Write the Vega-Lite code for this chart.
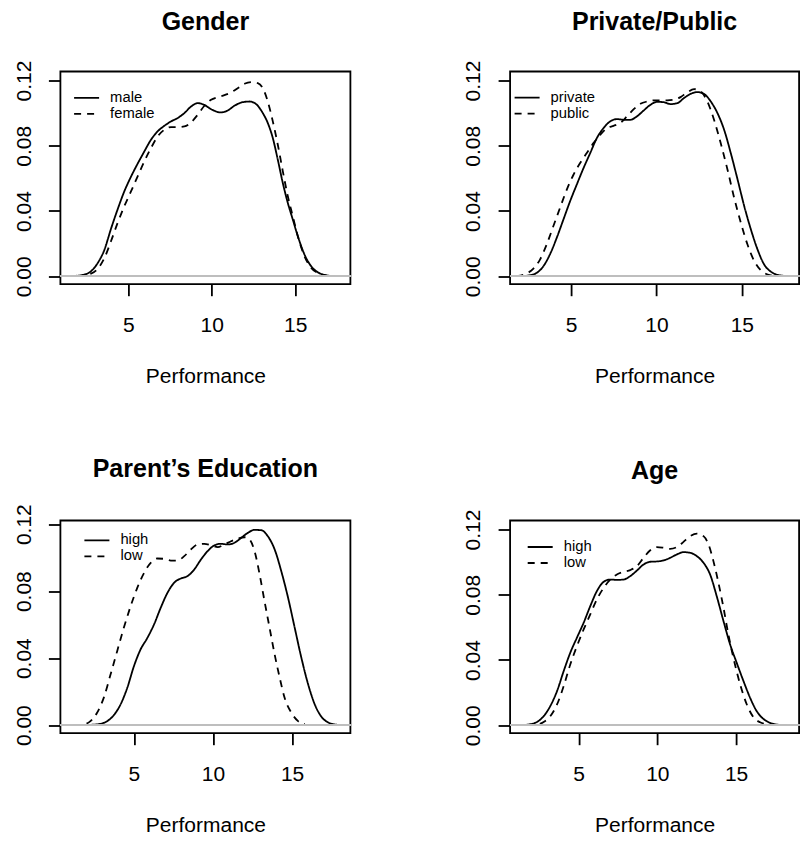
{
  "$schema": "https://vega.github.io/schema/vega-lite/v6.json",
  "background": "white",
  "padding": {"left": 11.4, "top": 8.5, "right": 2, "bottom": 2},
  "datasets": {
    "gender": [
      {"group":"male","x":1.56,"y":0},{"group":"male","x":2.36,"y":0.001},{"group":"male","x":2.76,"y":0.003},{"group":"male","x":3.16,"y":0.008},{"group":"male","x":3.56,"y":0.016},{"group":"male","x":3.96,"y":0.029},{"group":"male","x":4.36,"y":0.041},{"group":"male","x":4.76,"y":0.052},{"group":"male","x":5.16,"y":0.061},{"group":"male","x":5.56,"y":0.069},{"group":"male","x":5.96,"y":0.0765},{"group":"male","x":6.36,"y":0.0837},{"group":"male","x":6.76,"y":0.0888},{"group":"male","x":7.16,"y":0.0922},{"group":"male","x":7.56,"y":0.0949},{"group":"male","x":7.96,"y":0.097},{"group":"male","x":8.36,"y":0.1},{"group":"male","x":8.76,"y":0.104},{"group":"male","x":9.16,"y":0.1061},{"group":"male","x":9.56,"y":0.105},{"group":"male","x":9.96,"y":0.1024},{"group":"male","x":10.56,"y":0.1004},{"group":"male","x":10.96,"y":0.1016},{"group":"male","x":11.36,"y":0.1045},{"group":"male","x":11.86,"y":0.1067},{"group":"male","x":12.26,"y":0.1071},{"group":"male","x":12.66,"y":0.1055},{"group":"male","x":13.06,"y":0.1},{"group":"male","x":13.36,"y":0.0939},{"group":"male","x":13.66,"y":0.0847},{"group":"male","x":13.96,"y":0.0714},{"group":"male","x":14.26,"y":0.0571},{"group":"male","x":14.56,"y":0.0449},{"group":"male","x":14.86,"y":0.0347},{"group":"male","x":15.16,"y":0.0245},{"group":"male","x":15.56,"y":0.0133},{"group":"male","x":15.96,"y":0.0061},{"group":"male","x":16.36,"y":0.0024},{"group":"male","x":16.76,"y":0.0008},{"group":"male","x":17.36,"y":0},
      {"group":"female","x":1.96,"y":0},{"group":"female","x":2.76,"y":0.0016},{"group":"female","x":3.16,"y":0.0045},{"group":"female","x":3.56,"y":0.011},{"group":"female","x":3.96,"y":0.0214},{"group":"female","x":4.36,"y":0.0327},{"group":"female","x":4.76,"y":0.0429},{"group":"female","x":5.16,"y":0.052},{"group":"female","x":5.56,"y":0.0612},{"group":"female","x":5.96,"y":0.0704},{"group":"female","x":6.36,"y":0.0786},{"group":"female","x":6.76,"y":0.0857},{"group":"female","x":7.16,"y":0.0898},{"group":"female","x":7.56,"y":0.0914},{"group":"female","x":7.96,"y":0.0914},{"group":"female","x":8.36,"y":0.0918},{"group":"female","x":8.76,"y":0.0943},{"group":"female","x":9.16,"y":0.099},{"group":"female","x":9.56,"y":0.1045},{"group":"female","x":9.96,"y":0.1082},{"group":"female","x":10.36,"y":0.1098},{"group":"female","x":10.76,"y":0.111},{"group":"female","x":11.16,"y":0.1127},{"group":"female","x":11.56,"y":0.1153},{"group":"female","x":11.96,"y":0.118},{"group":"female","x":12.36,"y":0.119},{"group":"female","x":12.76,"y":0.1184},{"group":"female","x":13.06,"y":0.1153},{"group":"female","x":13.36,"y":0.1071},{"group":"female","x":13.66,"y":0.0949},{"group":"female","x":13.96,"y":0.0806},{"group":"female","x":14.26,"y":0.0643},{"group":"female","x":14.56,"y":0.049},{"group":"female","x":14.86,"y":0.0367},{"group":"female","x":15.16,"y":0.0245},{"group":"female","x":15.56,"y":0.0122},{"group":"female","x":15.96,"y":0.0051},{"group":"female","x":16.36,"y":0.002},{"group":"female","x":16.96,"y":0.0002}
    ],
    "school": [
      {"group":"private","x":2.0,"y":0},{"group":"private","x":2.59,"y":0.0006},{"group":"private","x":2.98,"y":0.002},{"group":"private","x":3.37,"y":0.006},{"group":"private","x":3.76,"y":0.0133},{"group":"private","x":4.16,"y":0.0235},{"group":"private","x":4.55,"y":0.0347},{"group":"private","x":4.94,"y":0.0459},{"group":"private","x":5.33,"y":0.0561},{"group":"private","x":5.73,"y":0.0663},{"group":"private","x":6.12,"y":0.0755},{"group":"private","x":6.51,"y":0.0847},{"group":"private","x":6.9,"y":0.0908},{"group":"private","x":7.29,"y":0.0949},{"group":"private","x":7.69,"y":0.0963},{"group":"private","x":8.08,"y":0.0959},{"group":"private","x":8.47,"y":0.0959},{"group":"private","x":8.86,"y":0.098},{"group":"private","x":9.25,"y":0.1016},{"group":"private","x":9.65,"y":0.1051},{"group":"private","x":10.04,"y":0.1069},{"group":"private","x":10.43,"y":0.1067},{"group":"private","x":10.82,"y":0.1055},{"group":"private","x":11.22,"y":0.1061},{"group":"private","x":11.61,"y":0.1092},{"group":"private","x":12.0,"y":0.1118},{"group":"private","x":12.39,"y":0.1129},{"group":"private","x":12.78,"y":0.1118},{"group":"private","x":13.18,"y":0.1071},{"group":"private","x":13.57,"y":0.1},{"group":"private","x":13.96,"y":0.0898},{"group":"private","x":14.35,"y":0.0755},{"group":"private","x":14.75,"y":0.0592},{"group":"private","x":15.14,"y":0.0429},{"group":"private","x":15.53,"y":0.0286},{"group":"private","x":15.92,"y":0.0163},{"group":"private","x":16.31,"y":0.0071},{"group":"private","x":16.71,"y":0.0027},{"group":"private","x":17.1,"y":0.0008},{"group":"private","x":17.69,"y":0},
      {"group":"public","x":1.8,"y":0},{"group":"public","x":2.39,"y":0.0016},{"group":"public","x":2.78,"y":0.0045},{"group":"public","x":3.18,"y":0.0102},{"group":"public","x":3.57,"y":0.0194},{"group":"public","x":3.96,"y":0.0306},{"group":"public","x":4.35,"y":0.0418},{"group":"public","x":4.75,"y":0.0531},{"group":"public","x":5.14,"y":0.0622},{"group":"public","x":5.53,"y":0.0694},{"group":"public","x":5.92,"y":0.0755},{"group":"public","x":6.31,"y":0.0816},{"group":"public","x":6.71,"y":0.0867},{"group":"public","x":7.1,"y":0.0908},{"group":"public","x":7.49,"y":0.0922},{"group":"public","x":7.88,"y":0.0939},{"group":"public","x":8.27,"y":0.098},{"group":"public","x":8.67,"y":0.1024},{"group":"public","x":9.06,"y":0.1057},{"group":"public","x":9.45,"y":0.1071},{"group":"public","x":9.84,"y":0.1078},{"group":"public","x":10.24,"y":0.1078},{"group":"public","x":10.63,"y":0.1078},{"group":"public","x":11.02,"y":0.1082},{"group":"public","x":11.41,"y":0.1098},{"group":"public","x":11.8,"y":0.1127},{"group":"public","x":12.2,"y":0.1147},{"group":"public","x":12.59,"y":0.1133},{"group":"public","x":12.98,"y":0.1071},{"group":"public","x":13.37,"y":0.0959},{"group":"public","x":13.76,"y":0.0816},{"group":"public","x":14.16,"y":0.0653},{"group":"public","x":14.55,"y":0.048},{"group":"public","x":14.94,"y":0.0327},{"group":"public","x":15.33,"y":0.0194},{"group":"public","x":15.73,"y":0.0092},{"group":"public","x":16.12,"y":0.0035},{"group":"public","x":16.51,"y":0.001},{"group":"public","x":16.9,"y":0.0002}
    ],
    "parent": [
      {"group":"high","x":1.19,"y":0},{"group":"high","x":2.25,"y":0.0002},{"group":"high","x":2.88,"y":0.0008},{"group":"high","x":3.31,"y":0.0024},{"group":"high","x":3.73,"y":0.006},{"group":"high","x":4.15,"y":0.0123},{"group":"high","x":4.58,"y":0.0223},{"group":"high","x":5.0,"y":0.0352},{"group":"high","x":5.42,"y":0.0452},{"group":"high","x":5.85,"y":0.0521},{"group":"high","x":6.27,"y":0.0601},{"group":"high","x":6.69,"y":0.07},{"group":"high","x":7.12,"y":0.079},{"group":"high","x":7.54,"y":0.085},{"group":"high","x":7.97,"y":0.0876},{"group":"high","x":8.39,"y":0.089},{"group":"high","x":8.81,"y":0.0929},{"group":"high","x":9.24,"y":0.0989},{"group":"high","x":9.66,"y":0.1039},{"group":"high","x":10.08,"y":0.1073},{"group":"high","x":10.51,"y":0.1083},{"group":"high","x":10.93,"y":0.1079},{"group":"high","x":11.36,"y":0.1089},{"group":"high","x":11.78,"y":0.1118},{"group":"high","x":12.2,"y":0.1148},{"group":"high","x":12.63,"y":0.1166},{"group":"high","x":13.05,"y":0.1164},{"group":"high","x":13.47,"y":0.1128},{"group":"high","x":13.9,"y":0.1049},{"group":"high","x":14.32,"y":0.0919},{"group":"high","x":14.75,"y":0.076},{"group":"high","x":15.17,"y":0.0581},{"group":"high","x":15.59,"y":0.0402},{"group":"high","x":16.02,"y":0.0243},{"group":"high","x":16.44,"y":0.0123},{"group":"high","x":16.86,"y":0.005},{"group":"high","x":17.29,"y":0.0016},{"group":"high","x":17.71,"y":0.0004},{"group":"high","x":18.35,"y":0},
      {"group":"low","x":1.19,"y":0},{"group":"low","x":1.82,"y":0.0004},{"group":"low","x":2.25,"y":0.0024},{"group":"low","x":2.67,"y":0.0074},{"group":"low","x":3.09,"y":0.0163},{"group":"low","x":3.52,"y":0.0302},{"group":"low","x":3.94,"y":0.0442},{"group":"low","x":4.36,"y":0.0581},{"group":"low","x":4.79,"y":0.071},{"group":"low","x":5.21,"y":0.082},{"group":"low","x":5.64,"y":0.0909},{"group":"low","x":6.06,"y":0.0969},{"group":"low","x":6.48,"y":0.0995},{"group":"low","x":6.91,"y":0.0993},{"group":"low","x":7.33,"y":0.0983},{"group":"low","x":7.75,"y":0.0983},{"group":"low","x":8.18,"y":0.1009},{"group":"low","x":8.6,"y":0.1049},{"group":"low","x":9.03,"y":0.1079},{"group":"low","x":9.45,"y":0.1083},{"group":"low","x":9.87,"y":0.1075},{"group":"low","x":10.3,"y":0.1063},{"group":"low","x":10.72,"y":0.1079},{"group":"low","x":11.14,"y":0.1098},{"group":"low","x":11.57,"y":0.1114},{"group":"low","x":11.99,"y":0.1122},{"group":"low","x":12.31,"y":0.1108},{"group":"low","x":12.63,"y":0.1039},{"group":"low","x":12.95,"y":0.09},{"group":"low","x":13.26,"y":0.074},{"group":"low","x":13.58,"y":0.0581},{"group":"low","x":13.9,"y":0.0422},{"group":"low","x":14.22,"y":0.0283},{"group":"low","x":14.53,"y":0.0163},{"group":"low","x":14.96,"y":0.0074},{"group":"low","x":15.38,"y":0.0024},{"group":"low","x":15.81,"y":0.0006}
    ],
    "age": [
      {"group":"high","x":1.3,"y":0},{"group":"high","x":1.93,"y":0.0006},{"group":"high","x":2.36,"y":0.002},{"group":"high","x":2.78,"y":0.0055},{"group":"high","x":3.2,"y":0.0117},{"group":"high","x":3.63,"y":0.0209},{"group":"high","x":4.05,"y":0.0331},{"group":"high","x":4.47,"y":0.0444},{"group":"high","x":4.89,"y":0.0536},{"group":"high","x":5.32,"y":0.0628},{"group":"high","x":5.74,"y":0.073},{"group":"high","x":6.16,"y":0.0822},{"group":"high","x":6.59,"y":0.0879},{"group":"high","x":7.01,"y":0.0893},{"group":"high","x":7.43,"y":0.0891},{"group":"high","x":7.85,"y":0.0893},{"group":"high","x":8.28,"y":0.0914},{"group":"high","x":8.7,"y":0.0948},{"group":"high","x":9.12,"y":0.0985},{"group":"high","x":9.55,"y":0.1002},{"group":"high","x":9.97,"y":0.1004},{"group":"high","x":10.39,"y":0.101},{"group":"high","x":10.81,"y":0.1026},{"group":"high","x":11.24,"y":0.1047},{"group":"high","x":11.66,"y":0.1061},{"group":"high","x":12.08,"y":0.1057},{"group":"high","x":12.51,"y":0.1036},{"group":"high","x":12.93,"y":0.0996},{"group":"high","x":13.35,"y":0.0924},{"group":"high","x":13.77,"y":0.0791},{"group":"high","x":14.2,"y":0.0638},{"group":"high","x":14.62,"y":0.0495},{"group":"high","x":15.04,"y":0.0382},{"group":"high","x":15.47,"y":0.027},{"group":"high","x":15.89,"y":0.0168},{"group":"high","x":16.31,"y":0.0086},{"group":"high","x":16.73,"y":0.0039},{"group":"high","x":17.16,"y":0.0014},{"group":"high","x":17.58,"y":0.0004},{"group":"high","x":18.21,"y":0},
      {"group":"low","x":1.72,"y":0},{"group":"low","x":2.36,"y":0.0004},{"group":"low","x":2.78,"y":0.002},{"group":"low","x":3.2,"y":0.0055},{"group":"low","x":3.63,"y":0.0127},{"group":"low","x":4.05,"y":0.0239},{"group":"low","x":4.47,"y":0.0372},{"group":"low","x":4.89,"y":0.0484},{"group":"low","x":5.32,"y":0.0587},{"group":"low","x":5.74,"y":0.0679},{"group":"low","x":6.16,"y":0.0771},{"group":"low","x":6.59,"y":0.0842},{"group":"low","x":7.01,"y":0.0893},{"group":"low","x":7.43,"y":0.0924},{"group":"low","x":7.85,"y":0.094},{"group":"low","x":8.28,"y":0.0951},{"group":"low","x":8.7,"y":0.0975},{"group":"low","x":9.12,"y":0.1026},{"group":"low","x":9.55,"y":0.1073},{"group":"low","x":9.97,"y":0.1092},{"group":"low","x":10.39,"y":0.1088},{"group":"low","x":10.81,"y":0.1081},{"group":"low","x":11.24,"y":0.1092},{"group":"low","x":11.66,"y":0.1124},{"group":"low","x":12.08,"y":0.1159},{"group":"low","x":12.51,"y":0.1175},{"group":"low","x":12.93,"y":0.1159},{"group":"low","x":13.25,"y":0.1108},{"group":"low","x":13.56,"y":0.1006},{"group":"low","x":13.88,"y":0.0873},{"group":"low","x":14.2,"y":0.072},{"group":"low","x":14.51,"y":0.0556},{"group":"low","x":14.83,"y":0.0413},{"group":"low","x":15.26,"y":0.0249},{"group":"low","x":15.68,"y":0.0127},{"group":"low","x":16.1,"y":0.0049},{"group":"low","x":16.52,"y":0.0018},{"group":"low","x":16.95,"y":0.0006},{"group":"low","x":17.37,"y":0.0002}
    ]
  },
  "columns": 2,
  "spacing": {"row": 236, "column": 159.7},
  "bounds": "flush",
  "concat": [
    {
      "width": 290, "height": 212.7,
      "title": {"text": "Gender", "offset": 25.2},
      "data": {"name": "gender"},
      "layer": [
        {"mark": {"type": "line", "color": "black", "strokeWidth": 1.8, "interpolate": "monotone"},
         "encoding": {
           "x": {"field": "x", "type": "quantitative", "scale": {"domain": [0.93, 18.31], "nice": false, "zero": false}, "axis": {"values": [5, 10, 15], "title": "Performance", "titleY": 98.5, "titleBaseline": "alphabetic"}},
           "y": {"field": "y", "type": "quantitative", "scale": {"domain": [-0.0049, 0.1255], "nice": false, "zero": false}, "axis": {"values": [0, 0.02, 0.04, 0.06, 0.08, 0.1, 0.12], "title": null, "format": ".2f", "labelExpr": "indexof(['0.00','0.04','0.08','0.12'], datum.label) >= 0 ? datum.label : ''"}},
           "strokeDash": {"field": "group", "type": "nominal", "scale": {"domain": ["male", "female"], "range": [[1, 0], [7, 6]]}, "legend": {"title": null, "orient": "none", "legendX": 12.7, "legendY": 18.4}}
         }},
        {"mark": {"type": "rule", "color": "#BEBEBE", "strokeWidth": 1.8}, "encoding": {"y": {"datum": 0, "type": "quantitative"}}}
      ]
    },
    {
      "width": 289, "height": 212.7,
      "title": {"text": "Private/Public", "offset": 25.2},
      "data": {"name": "school"},
      "layer": [
        {"mark": {"type": "line", "color": "black", "strokeWidth": 1.8, "interpolate": "monotone"},
         "encoding": {
           "x": {"field": "x", "type": "quantitative", "scale": {"domain": [1.43, 18.35], "nice": false, "zero": false}, "axis": {"values": [5, 10, 15], "title": "Performance", "titleY": 98.5, "titleBaseline": "alphabetic"}},
           "y": {"field": "y", "type": "quantitative", "scale": {"domain": [-0.0049, 0.1255], "nice": false, "zero": false}, "axis": {"values": [0, 0.02, 0.04, 0.06, 0.08, 0.1, 0.12], "title": null, "format": ".2f", "labelExpr": "indexof(['0.00','0.04','0.08','0.12'], datum.label) >= 0 ? datum.label : ''"}},
           "strokeDash": {"field": "group", "type": "nominal", "scale": {"domain": ["private", "public"], "range": [[1, 0], [7, 6]]}, "legend": {"title": null, "orient": "none", "legendX": 3.5, "legendY": 18.2}}
         }},
        {"mark": {"type": "rule", "color": "#BEBEBE", "strokeWidth": 1.8}, "encoding": {"y": {"datum": 0, "type": "quantitative"}}}
      ]
    },
    {
      "width": 290, "height": 212.7,
      "title": {"text": "Parent’s Education", "offset": 22.2},
      "data": {"name": "parent"},
      "layer": [
        {"mark": {"type": "line", "color": "black", "strokeWidth": 1.8, "interpolate": "monotone"},
         "encoding": {
           "x": {"field": "x", "type": "quantitative", "scale": {"domain": [0.35, 18.69], "nice": false, "zero": false}, "axis": {"values": [5, 10, 15], "title": "Performance", "titleY": 98.5, "titleBaseline": "alphabetic"}},
           "y": {"field": "y", "type": "quantitative", "scale": {"domain": [-0.0048, 0.1222], "nice": false, "zero": false}, "axis": {"values": [0, 0.02, 0.04, 0.06, 0.08, 0.1, 0.12], "title": null, "format": ".2f", "labelExpr": "indexof(['0.00','0.04','0.08','0.12'], datum.label) >= 0 ? datum.label : ''"}},
           "strokeDash": {"field": "group", "type": "nominal", "scale": {"domain": ["high", "low"], "range": [[1, 0], [7, 6]]}, "legend": {"title": null, "orient": "none", "legendX": 23, "legendY": 11.8}}
         }},
        {"mark": {"type": "rule", "color": "#BEBEBE", "strokeWidth": 1.8}, "encoding": {"y": {"datum": 0, "type": "quantitative"}}}
      ]
    },
    {
      "width": 289, "height": 212.7,
      "title": {"text": "Age", "offset": 25.2},
      "data": {"name": "age"},
      "layer": [
        {"mark": {"type": "line", "color": "black", "strokeWidth": 1.8, "interpolate": "monotone"},
         "encoding": {
           "x": {"field": "x", "type": "quantitative", "scale": {"domain": [0.65, 19.0], "nice": false, "zero": false}, "axis": {"values": [5, 10, 15], "title": "Performance", "titleY": 98.5, "titleBaseline": "alphabetic"}},
           "y": {"field": "y", "type": "quantitative", "scale": {"domain": [-0.0049, 0.1255], "nice": false, "zero": false}, "axis": {"values": [0, 0.02, 0.04, 0.06, 0.08, 0.1, 0.12], "title": null, "format": ".2f", "labelExpr": "indexof(['0.00','0.04','0.08','0.12'], datum.label) >= 0 ? datum.label : ''"}},
           "strokeDash": {"field": "group", "type": "nominal", "scale": {"domain": ["high", "low"], "range": [[1, 0], [7, 6]]}, "legend": {"title": null, "orient": "none", "legendX": 16.6, "legendY": 18.5}}
         }},
        {"mark": {"type": "rule", "color": "#BEBEBE", "strokeWidth": 1.8}, "encoding": {"y": {"datum": 0, "type": "quantitative"}}}
      ]
    }
  ],
  "resolve": {
    "scale": {"x": "independent", "y": "independent", "strokeDash": "independent"},
    "axis": {"x": "independent", "y": "independent"},
    "legend": {"strokeDash": "independent"}
  },
  "config": {
    "font": "Liberation Sans",
    "view": {"stroke": "black", "strokeWidth": 1.8},
    "axis": {
      "domain": false, "grid": false, "ticks": true,
      "tickColor": "black", "tickWidth": 1.8,
      "labelFont": "Liberation Sans", "labelFontSize": 21, "labelColor": "black",
      "labelFlush": false, "labelOverlap": false,
      "titleFont": "Liberation Sans", "titleFontSize": 21, "titleFontWeight": "normal", "titleColor": "black"
    },
    "axisX": {"tickSize": 11.5, "labelPadding": 19},
    "axisY": {"tickSize": 12, "labelPadding": 18.3, "labelAngle": -90, "labelAlign": "center", "labelBaseline": "alphabetic"},
    "legend": {
      "symbolType": "stroke", "symbolSize": 625, "symbolStrokeWidth": 1.8, "symbolStrokeColor": "black",
      "labelFont": "Liberation Sans", "labelFontSize": 14.8, "labelColor": "black", "labelOffset": 10,
      "clipHeight": 16, "rowPadding": 0, "padding": 0
    },
    "title": {"font": "Liberation Sans", "fontSize": 25, "fontWeight": "bold", "color": "black", "baseline": "alphabetic", "anchor": "middle", "frame": "group"}
  }
}
